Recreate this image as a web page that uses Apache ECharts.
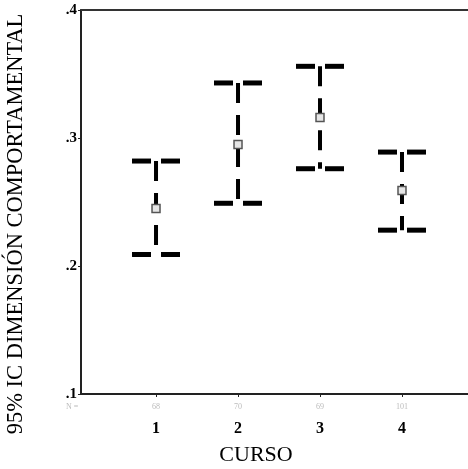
<!DOCTYPE html>
<html>
<head>
<meta charset="utf-8">
<script src="https://cdn.jsdelivr.net/npm/echarts@6/dist/echarts.min.js"></script>
<style>
  html, body { margin: 0; padding: 0; background: #fff; }
  #chart { width: 468px; height: 469px; }
</style>
</head>
<body>
<div id="chart"></div>
<script>
// datos del gráfico
const cursos = [1, 2, 3, 4]
const nCasos = [68, 70, 69, 101]
const icInferior = [0.209, 0.249, 0.276, 0.228]
const icSuperior = [0.282, 0.343, 0.356, 0.289]
const medias = [0.245, 0.295, 0.316, 0.259]
const yTicks = [0.1, 0.2, 0.3, 0.4]

const serif = "'Liberation Serif', 'Times New Roman', serif"

let chart = echarts.init(document.getElementById('chart'))

let datos = cursos.map((c, i) => [c, icInferior[i], icSuperior[i], medias[i]])

chart.setOption({
  backgroundColor: '#fff',
  animation: false,
  grid: { left: 81, top: 10, right: 0, bottom: 75 },
  xAxis: [
    {
      type: 'value',
      min: 0.085,
      max: 4.805,
      axisLine: { lineStyle: { color: '#222', width: 2 } },
      axisTick: { customValues: cursos, length: 3, lineStyle: { color: '#222' } },
      axisLabel: {
        customValues: cursos,
        margin: 5,
        formatter: function (v) {
          let i = cursos.indexOf(v)
          return '{n|' + nCasos[i] + '}\n{c|' + v + '}'
        },
        rich: {
          n: { fontSize: 8, color: '#bbb', fontFamily: serif, lineHeight: 16 },
          c: { fontSize: 16, fontWeight: 'bold', color: '#000', fontFamily: serif, lineHeight: 28 }
        }
      },
      splitLine: { show: false }
    },
    {
      type: 'value',
      position: 'top',
      min: 0.085,
      max: 4.805,
      axisLine: { show: true, lineStyle: { color: '#333', width: 2 } },
      axisTick: { show: false },
      axisLabel: { show: false },
      splitLine: { show: false }
    }
  ],
  yAxis: {
    type: 'value',
    min: yTicks[0],
    max: yTicks[yTicks.length - 1],
    interval: 0.1,
    axisLine: { show: true, lineStyle: { color: '#222', width: 2 } },
    axisTick: { show: true, length: 3, lineStyle: { color: '#222' } },
    axisLabel: {
      margin: 4,
      color: '#000',
      fontSize: 15,
      fontWeight: 'bold',
      fontFamily: serif,
      formatter: v => '.' + Math.round(v * 10)
    },
    splitLine: { show: false }
  },
  graphic: [
    {
      type: 'text', left: 66, top: 403,
      style: { text: 'N =', fill: '#bbb', font: '8px ' + serif }
    },
    {
      type: 'text', x: 256, y: 455,
      style: { text: 'CURSO', fill: '#000', font: '22px ' + serif, align: 'center', verticalAlign: 'middle' }
    },
    {
      type: 'text', x: 16, y: 224, rotation: Math.PI / 2,
      style: { text: '95% IC DIMENSIÓN COMPORTAMENTAL', fill: '#000', font: '22.5px ' + serif, align: 'center', verticalAlign: 'middle' }
    }
  ],
  series: [{
    type: 'custom',
    data: datos,
    renderItem: function (params, api) {
      let x = api.coord([api.value(0), api.value(1)])[0]
      let lo = api.coord([api.value(0), api.value(1)])[1]
      let hi = api.coord([api.value(0), api.value(2)])[1]
      let mid = api.coord([api.value(0), api.value(3)])[1]
      let cap = { stroke: '#000', lineWidth: 5 }
      return {
        type: 'group',
        children: [
          { type: 'line', shape: { x1: x, y1: hi, x2: x, y2: lo }, style: { stroke: '#000', lineWidth: 4, lineDash: [20, 12] } },
          { type: 'line', shape: { x1: x - 24, y1: hi, x2: x - 5, y2: hi }, style: cap },
          { type: 'line', shape: { x1: x + 5, y1: hi, x2: x + 24, y2: hi }, style: cap },
          { type: 'line', shape: { x1: x - 24, y1: lo, x2: x - 5, y2: lo }, style: cap },
          { type: 'line', shape: { x1: x + 5, y1: lo, x2: x + 24, y2: lo }, style: cap },
          { type: 'rect', shape: { x: x - 4, y: mid - 4, width: 8, height: 8 }, style: { fill: '#e6e6e6', stroke: '#555', lineWidth: 1.5 } }
        ]
      }
    }
  }]
})
</script>
</body>
</html>
